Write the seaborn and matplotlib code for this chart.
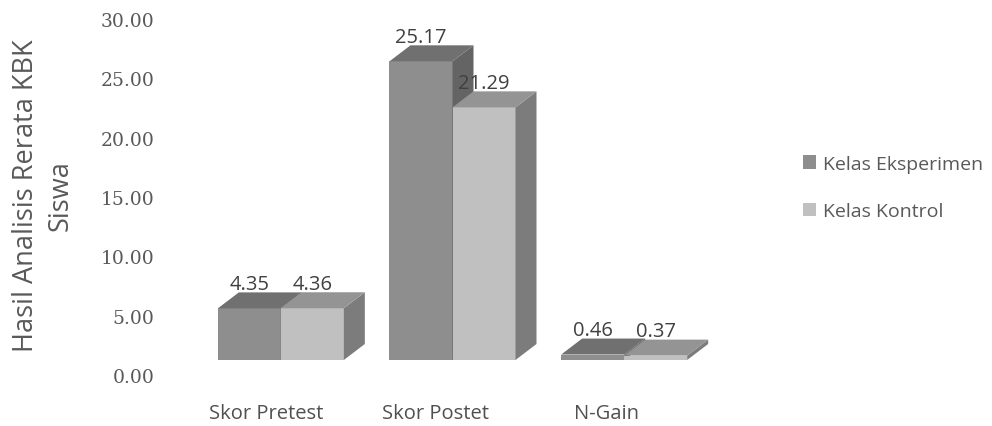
import matplotlib
matplotlib.use("Agg")
import matplotlib.pyplot as plt
from matplotlib.patches import Polygon, Patch
import pandas as pd
import seaborn as sns

# ---- data ----
categories = ["Skor Pretest", "Skor Postet", "N-Gain"]
series_names = ["Kelas Eksperimen", "Kelas Kontrol"]
kelas_eksperimen = [4.35, 25.17, 0.46]
kelas_kontrol = [4.36, 21.29, 0.37]
y_ticks = [0, 5, 10, 15, 20, 25, 30]

df = pd.DataFrame({
    "Kategori": categories * 2,
    "Kelas": [series_names[0]] * len(categories) + [series_names[1]] * len(categories),
    "Nilai": kelas_eksperimen + kelas_kontrol,
})

# ---- style ----
sns.set_theme(style="white")
plt.rcParams["font.family"] = ["Open Sans", "DejaVu Sans"]

FRONT = ["#8e8e8e", "#c0c0c0"]
TOP = ["#707070", "#949494"]
SIDE = ["#646464", "#7c7c7c"]
TEXT = "#595959"

W, H, DPI = 992, 427, 100
fig = plt.figure(figsize=(W / DPI, H / DPI), dpi=DPI)


def px_rect(left, bottom, width, height):
    return [left / W, bottom / H, width / W, height / H]


# axis frame carrying the tick labels
ax = fig.add_axes(px_rect(181, 51, 510, 356))
ax.set_xlim(-0.5, 2.5)
ax.set_ylim(0, 30)
ax.set_xticks(range(len(categories)), categories)
ax.set_yticks(y_ticks, [f"{t:.2f}" for t in y_ticks])
for s in ax.spines.values():
    s.set_visible(False)
ax.patch.set_alpha(0)
ax.tick_params(axis="both", length=0)
ax.tick_params(axis="y", pad=19, labelsize=13.5, labelcolor=TEXT)
ax.tick_params(axis="x", pad=20, labelsize=14.5, labelcolor="#505050")
for lbl in ax.get_yticklabels():
    lbl.set_fontfamily("DejaVu Serif")
ax.set_xlabel("")
ax.set_ylabel("")

# bars sit slightly back in the 3-D floor
bax = fig.add_axes(px_rect(195, 66, 515, 356))
sns.barplot(data=df, x="Kategori", y="Nilai", hue="Kelas", palette=FRONT,
            width=0.734, saturation=1, legend=False, ax=bax)
bax.set_xlim(-0.5, 2.5)
bax.set_ylim(0, 30)
bax.axis("off")
bax.patch.set_alpha(0)

# depth of the extruded faces, in data units
dx = 21 / 515 * 3.0
dy = 16 / 356 * 30.0

for i, (cont, vals) in enumerate(zip(bax.containers, [kelas_eksperimen, kelas_kontrol])):
    z = 2 + 2 * i
    for bar, v in zip(cont, vals):
        x0 = bar.get_x()
        w = bar.get_width()
        x1 = x0 + w
        h = bar.get_height()
        bar.set_zorder(z)
        bar.set_linewidth(0)
        bar.set_clip_on(False)
        top = Polygon([(x0, h), (x1, h), (x1 + dx, h + dy), (x0 + dx, h + dy)],
                      closed=True, facecolor=TOP[i], edgecolor="none", zorder=z, clip_on=False)
        side = Polygon([(x1, 0), (x1 + dx, dy), (x1 + dx, h + dy), (x1, h)],
                       closed=True, facecolor=SIDE[i], edgecolor="none", zorder=z, clip_on=False)
        bax.add_patch(side)
        bax.add_patch(top)
        bax.annotate(f"{v:.2f}", xy=(x0 + w / 2, h + dy), xytext=(0, 2.5),
                     textcoords="offset points", ha="center", va="baseline",
                     fontsize=14.5, color="#404040", zorder=10, annotation_clip=False)

# legend
handles = [Patch(facecolor=c, edgecolor="none") for c in FRONT]
fig.legend(handles=handles, labels=series_names, loc="center left",
           bbox_to_anchor=(803 / W, 1 - 188.5 / H), frameon=False, fontsize=14,
           handlelength=0.67, handleheight=0.67, handletextpad=0.35,
           labelspacing=1.5, borderpad=0, borderaxespad=0, labelcolor=TEXT)

# axis title
fig.text(43 / W, 1 - 196 / H, "Hasil Analisis Rerata KBK\nSiswa", rotation=90,
         ha="center", va="center", multialignment="center", fontsize=19.5,
         color=TEXT, linespacing=1.3)

fig.savefig("out.png", dpi=DPI)
